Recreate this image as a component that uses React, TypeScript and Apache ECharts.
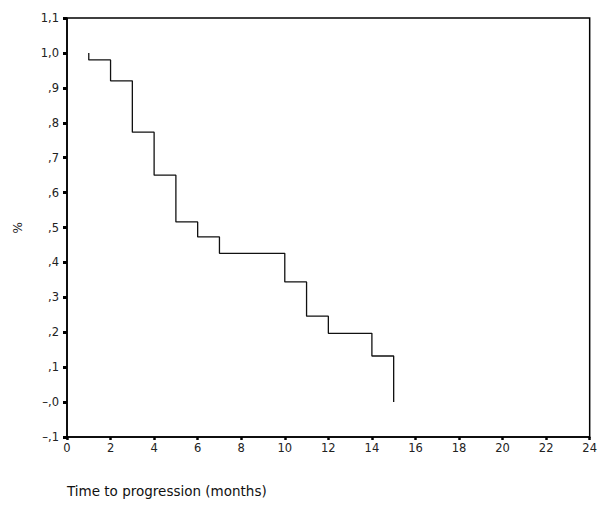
import React, { useEffect, useRef } from "react";
import * as echarts from "echarts";

const times = [1, 1, 2, 3, 4, 5, 6, 7, 10, 11, 12, 14, 15];
const survival = [1.0, 0.98, 0.92, 0.773, 0.65, 0.516, 0.473, 0.426, 0.344, 0.246, 0.197, 0.132, 0.0];
const xTitle = "Time to progression (months)";
const yTitle = "%";

function fmtY(v: number): string {
  const r = Math.round(v * 10) / 10;
  if (Math.abs(r) < 1e-9) return "–,0";
  const neg = r < 0;
  const a = Math.abs(r);
  const intPart = Math.floor(a + 1e-9);
  const dec = Math.round((a - intPart) * 10);
  const s = (intPart > 0 ? String(intPart) : "") + "," + dec;
  return (neg ? "–" : "") + s;
}

export default function App() {
  const ref = useRef<HTMLDivElement>(null);
  useEffect(() => {
    if (!ref.current) return;
    const chart = echarts.init(ref.current, undefined, { renderer: "svg" });
    const font = "DejaVu Sans";
    chart.setOption({
      animation: false,
      backgroundColor: "#ffffff",
      grid: {
        left: 67,
        right: 10,
        top: 18,
        bottom: 78,
        show: true,
        borderColor: "#000",
        borderWidth: 1.5,
      },
      xAxis: {
        type: "value",
        min: 0,
        max: 24,
        interval: 2,
        axisLine: { show: true, onZero: false, lineStyle: { color: "#000", width: 1.5 } },
        axisTick: { show: true, length: 3, lineStyle: { color: "#000", width: 2.5 } },
        axisLabel: { color: "#222", fontFamily: font, fontSize: 11.5, margin: 5 },
        splitLine: { show: false },
      },
      yAxis: {
        type: "value",
        min: -0.1,
        max: 1.1,
        interval: 0.1,
        axisLine: { show: true, onZero: false, lineStyle: { color: "#000", width: 1.5 } },
        axisTick: { show: true, length: 4, lineStyle: { color: "#000", width: 3 } },
        axisLabel: {
          color: "#222",
          fontFamily: font,
          fontSize: 11.5,
          margin: 8,
          formatter: (v: number) => fmtY(v),
        },
        splitLine: { show: false },
      },
      graphic: [
        {
          type: "text",
          left: 12,
          top: 222,
          rotation: Math.PI / 2,
          style: { text: yTitle, fontFamily: font, fontSize: 12, fill: "#222" },
        },
        {
          type: "text",
          left: 67,
          top: 484,
          style: { text: xTitle, fontFamily: font, fontSize: 13.5, fill: "#111" },
        },
      ],
      series: [
        {
          type: "line",
          step: "end",
          data: times.map((t, i) => [t, survival[i]]),
          showSymbol: false,
          symbol: "none",
          lineStyle: { color: "#111", width: 1.3 },
        },
      ],
    });
    return () => chart.dispose();
  }, []);
  return (
    <div
      ref={ref}
      style={{ position: "fixed", left: 0, top: 0, width: 600, height: 515, background: "#fff" }}
    />
  );
}
